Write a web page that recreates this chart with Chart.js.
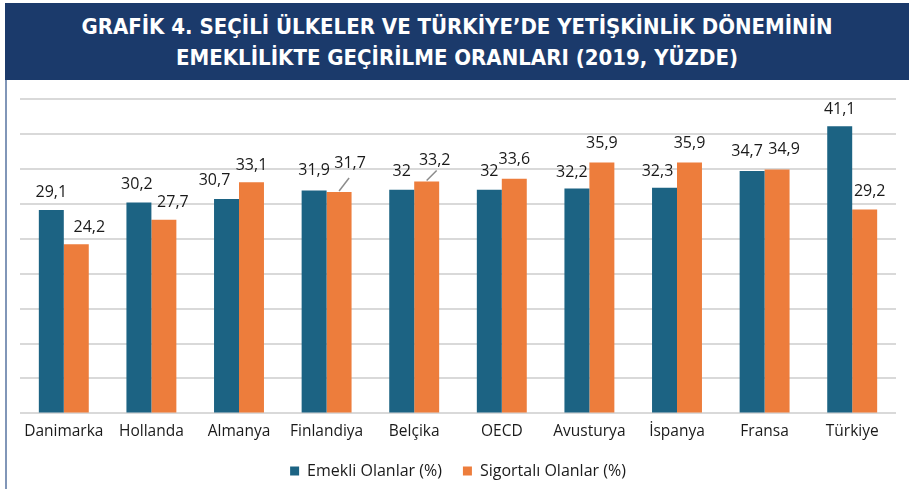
<!DOCTYPE html>
<html>
<head>
<meta charset="utf-8">
<script src="https://cdn.jsdelivr.net/npm/chart.js@4.4.1/dist/chart.umd.min.js"></script>
<style>
  html, body { margin: 0; padding: 0; background: #fff; }
  body { width: 909px; height: 489px; position: relative; overflow: hidden; }
  #banner {
    position: absolute; left: 5px; top: 3px; width: 904px; height: 77px;
    background: #1b3a6b; color: #fff; text-align: center;
    font-family: "DejaVu Sans Condensed", "DejaVu Sans", sans-serif;
    font-stretch: condensed; font-weight: bold; font-size: 22px; line-height: 31px;
    padding-top: 8px; box-sizing: border-box;
  }
  #edge { position: absolute; left: 5px; top: 80px; width: 1.5px; height: 409px; background: #8196b8; }
  #wrap { position: absolute; left: 6px; top: 80px; width: 903px; height: 409px; }
</style>
</head>
<body>
<div id="banner">GRAFİK 4. SEÇİLİ ÜLKELER VE TÜRKİYE’DE YETİŞKİNLİK DÖNEMİNİN<br>EMEKLİLİKTE GEÇİRİLME ORANLARI (2019, YÜZDE)</div>
<div id="edge"></div>
<div id="wrap"><canvas id="grafik"></canvas></div>
<script>
// veriler
const ulkeler = ["Danimarka", "Hollanda", "Almanya", "Finlandiya", "Belçika", "OECD", "Avusturya", "İspanya", "Fransa", "Türkiye"];
const emekli = [29.1, 30.2, 30.7, 31.9, 32, 32, 32.2, 32.3, 34.7, 41.1];
const sigortali = [24.2, 27.7, 33.1, 31.7, 33.2, 33.6, 35.9, 35.9, 34.9, 29.2];
const seriAdlari = ["Emekli Olanlar (%)", "Sigortalı Olanlar (%)"];
const yEksen = { min: 0, max: 45, adim: 5 };

const yaziFont = '"Open Sans", "Noto Sans", sans-serif';

// etiket kaydirmalari [dx, dy] (elle ayarlandi)
const kaydir = [
  [[0,0],[-2,0],[-12,0],[0,-2],[0,0],[0,0],[-5,2],[-7,2],[-5,-2],[0,1]],
  [[13,1],[9,1],[0,1],[11,-10],[8,-3],[0,-1],[0,-1],[0,-1],[7,-2],[5,0]]
];
const cizgili = { "1-3": true, "1-4": true };

const etiketPlugin = {
  id: "etiketler",
  afterDatasetsDraw(c) {
    const ctx = c.ctx;
    ctx.save();
    ctx.font = "16px " + yaziFont;
    ctx.fillStyle = "#1a1a1a";
    ctx.textAlign = "center";
    ctx.textBaseline = "middle";
    c.data.datasets.forEach((ds, i) => {
      c.getDatasetMeta(i).data.forEach((bar, j) => {
        const [dx, dy] = kaydir[i][j];
        const txt = String(ds.data[j]).replace(".", ",");
        ctx.fillText(txt, bar.x + dx, bar.y - 18 + dy);
        if (cizgili[i + "-" + j]) {
          ctx.strokeStyle = "#8c8c8c";
          ctx.lineWidth = 1.5;
          ctx.beginPath();
          ctx.moveTo(bar.x, bar.y - 1);
          ctx.lineTo(bar.x + 10, bar.y - 12 + (dy < -5 ? -2 : 1));
          ctx.stroke();
        }
      });
    });
    ctx.restore();
  }
};

new Chart(grafik, {
  type: "bar",
  data: {
    labels: ulkeler,
    datasets: [
      { label: seriAdlari[0], data: emekli, backgroundColor: "#1c6383" },
      { label: seriAdlari[1], data: sigortali, backgroundColor: "#ed7d3c" }
    ]
  },
  options: {
    responsive: true, maintainAspectRatio: false, animation: false,
    categoryPercentage: 0.57, barPercentage: 1,
    layout: { padding: { top: 19, left: 14, right: 13, bottom: 0 } },
    plugins: {
      tooltip: { enabled: false },
      legend: {
        position: "bottom",
        labels: { boxWidth: 9, boxHeight: 9, padding: 21, color: "#1a1a1a", font: { family: yaziFont, size: 16 } }
      }
    },
    scales: {
      x: {
        grid: { display: false }, border: { display: false },
        ticks: { color: "#1a1a1a", padding: 1, maxRotation: 0, minRotation: 0, autoSkip: false, font: { family: yaziFont, size: 15.5 } }
      },
      y: {
        min: yEksen.min, max: yEksen.max,
        ticks: { display: false, stepSize: yEksen.adim },
        grid: { color: "#d9d9d9", lineWidth: 2, drawTicks: false },
        border: { display: false },
        afterFit(s) { s.width = 0; }
      }
    }
  },
  plugins: [etiketPlugin]
});
</script>
</body>
</html>
